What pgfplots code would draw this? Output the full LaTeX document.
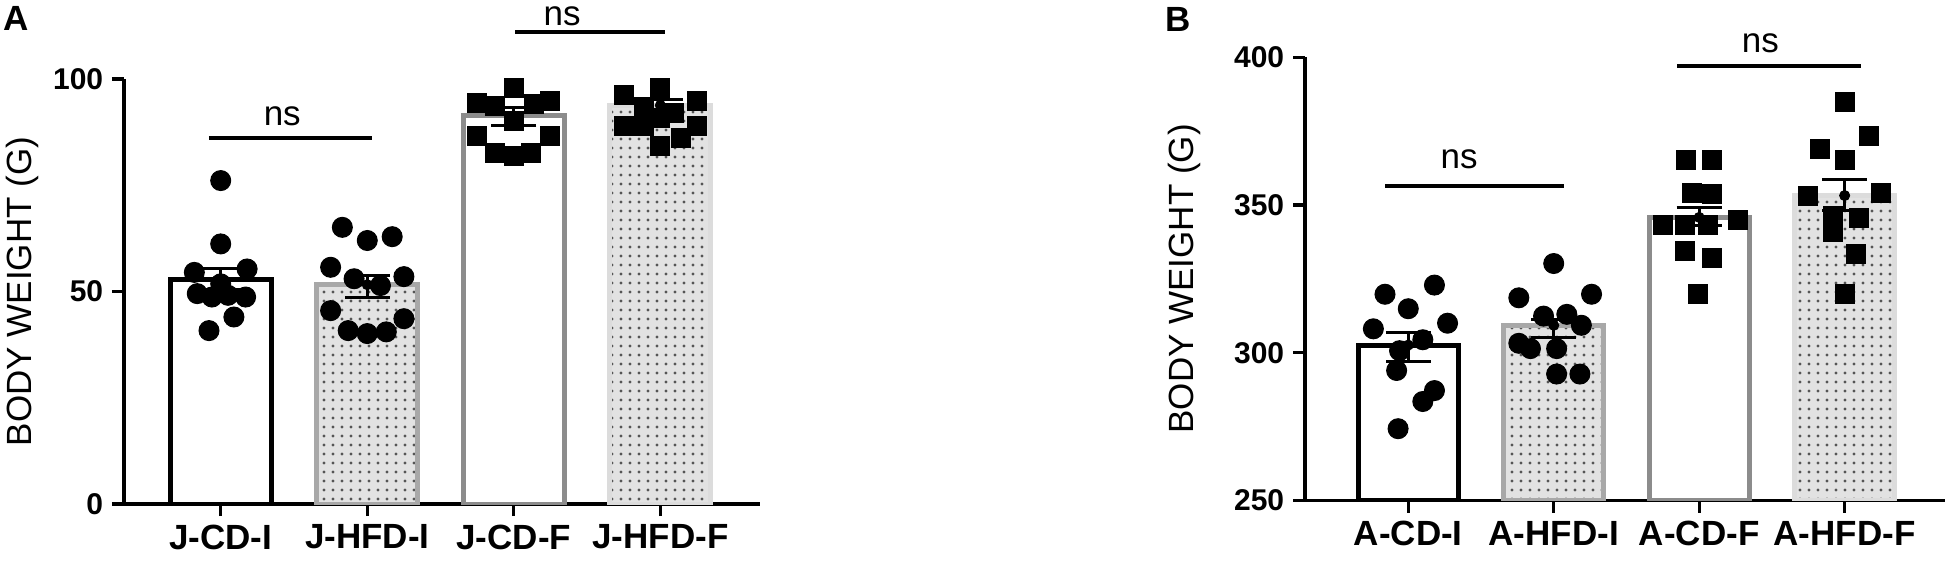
\documentclass[border=0pt]{standalone}
\usepackage{pgfplots}
\pgfplotsset{compat=1.18}
\usetikzlibrary{patterns.meta}
\usepackage{fontspec}
\setmainfont{Liberation Sans}

\definecolor{dotfill}{HTML}{E2E2E2}
\definecolor{hfdborder}{HTML}{A8A8A8}
\definecolor{cdfborder}{HTML}{8C8C8C}
\definecolor{lightborder}{HTML}{DCDCDC}
\definecolor{patcol}{HTML}{555555}

\tikzset{
  nsline/.style={line width=1.6pt, black},
  nstext/.style={anchor=base, font=\fontsize{14}{16}\selectfont},
}

\pgfplotsset{
  panel/.style={
    scale only axis,
    axis lines*=left,
    axis line style={line width=1.3pt},
    major tick style={line width=1.3pt, black},
    tick align=outside,
    major tick length=4.8pt,
    xtick={0,1,2,3},
    clip mode=individual,
    /pgf/number format/assume math mode=true,
    yticklabel style={font=\fontsize{12}{14}\selectfont\bfseries},
    xticklabel style={font=\fontsize{14}{16}\selectfont\bfseries},
    ylabel={BODY WEIGHT (G)},
  },
  barbase/.style={ybar, bar width=0.69, bar shift=0pt, line width=2pt},
  cdI/.style={barbase, draw=black, fill=white},
  hfdI/.style={barbase, draw=hfdborder, fill=dotfill, postaction={pattern={Dots[distance=3.6pt, radius=0.65pt]}, pattern color=patcol}},
  cdF/.style={barbase, draw=cdfborder, fill=white},
  hfdF/.style={barbase, draw=lightborder, fill=dotfill, postaction={pattern={Dots[distance=3.6pt, radius=0.65pt]}, pattern color=patcol}},
  circ/.style={only marks, mark=*, mark size=4pt, black, mark options={fill=black, draw=black}},
  sq/.style={only marks, mark=square*, mark size=3.8pt, black, mark options={fill=black, draw=black}},
  errb/.style={only marks, mark=none, black,
    error bars/.cd, y dir=both, y explicit,
    error bar style={line width=1.2pt, black},
    error mark options={line width=1.2pt, black, mark size=9pt, rotate=90}},
}

\begin{document}
\begin{tikzpicture}
\path[use as bounding box] (-49.6pt,-26.8pt) rectangle (730.4pt,201.6pt);

% ---------------- Panel A ----------------
\begin{axis}[panel,
  at={(0pt,0pt)}, anchor=south west,
  width=254.4pt, height=170pt,
  xmin=-0.66, xmax=3.68, ymin=0, ymax=100,
  ytick={0,50,100},
  xticklabels={J-CD-I, J-HFD-I, J-CD-F, J-HFD-F},
  every axis y label/.style={at={(axis description cs:0,0.5)}, xshift=-36.8pt, rotate=90, anchor=base, font=\fontsize{14}{16}\selectfont},
]
\addplot[cdI]  coordinates {(0,52.8)};
\addplot[hfdI] coordinates {(1,51.6)};
\addplot[cdF]  coordinates {(2,91.3)};
\addplot[hfdF] coordinates {(3,93.8)};

\addplot[circ] table {
x y
0.00 76.1
0.00 61.2
-0.18 54.5
0.18 55.3
-0.16 49.5
-0.06 48.7
0.05 49.1
0.17 48.7
0.09 44.0
-0.08 40.8
0.00 51.8
};
\addplot[circ] table {
x y
0.83 65.1
1.00 62.0
1.17 62.9
0.75 55.7
0.91 53.0
1.09 51.4
1.25 53.5
0.75 45.5
0.87 40.8
1.00 40.1
1.13 40.5
1.25 43.6
};
\addplot[sq] table {
x y
2.00 97.9
1.75 94.4
1.87 93.7
2.14 94.1
2.25 94.8
2.00 90.1
1.75 86.6
2.25 86.6
1.87 82.7
2.00 81.9
2.12 82.7
};
\addplot[sq] table {
x y
2.75 96.2
3.00 97.9
3.25 94.8
2.89 93.3
3.09 92.1
2.75 89.0
2.89 89.0
3.25 89.0
3.14 86.2
3.00 84.3
3.00 90.9
};

\addplot[errb] coordinates {
(0,52.8) += (0,2.5) -= (0,2.3)
(1,51.6) += (0,2.2) -= (0,2.9)
(2,91.3) += (0,2.0) -= (0,2.2)
(3,93.8) += (0,1.4) -= (0,2.0)
};

\draw[nsline] (axis cs:-0.08,86.1) -- (axis cs:1.03,86.1);
\node[nstext] at (axis cs:0.42,89.1) {ns};
\draw[nsline] (axis cs:2.01,111.1) -- (axis cs:3.03,111.1);
\node[nstext] at (axis cs:2.33,112.6) {ns};
\end{axis}

% ---------------- Panel B ----------------
\begin{axis}[panel,
  at={(472.4pt,1.4pt)}, anchor=south west,
  width=256pt, height=177.3pt,
  xmin=-0.71, xmax=3.69, ymin=250, ymax=400,
  ytick={250,300,350,400},
  xticklabels={A-CD-I, A-HFD-I, A-CD-F, A-HFD-F},
  every axis y label/.style={at={(axis description cs:0,0.5)}, xshift=-44.8pt, rotate=90, anchor=base, font=\fontsize{14}{16}\selectfont},
]
\addplot[cdI]  coordinates {(0,302.6)};
\addplot[hfdI] coordinates {(1,309.3)};
\addplot[cdF]  coordinates {(2,345.8)};
\addplot[hfdF] coordinates {(3,353.2)};

\addplot[circ] table {
x y
-0.16 319.8
0.18 322.9
0.00 314.9
-0.24 308.1
0.27 310.0
0.10 304.4
-0.06 300.7
-0.08 294.0
0.18 287.2
0.10 283.5
-0.07 274.3
};
\addplot[circ] table {
x y
1.00 330.2
0.76 318.6
1.26 319.8
0.93 312.4
1.09 313.0
1.19 309.3
0.76 303.2
0.84 301.4
1.02 301.4
1.02 292.8
1.18 292.8
};
\addplot[sq] table {
x y
1.91 365.2
2.09 365.2
1.95 354.2
2.09 353.6
1.75 343.1
1.90 343.1
2.06 343.1
2.27 345.0
1.90 334.5
2.09 332.1
1.99 319.8
};
\addplot[sq] table {
x y
3.00 384.9
3.17 373.2
2.83 368.9
3.00 365.2
2.75 352.9
3.25 354.2
2.92 346.2
3.10 345.6
2.92 340.7
3.08 333.3
3.00 319.8
};

\addplot[errb] coordinates {
(0,302.6) += (0,4.3) -= (0,5.6)
(1,309.3) += (0,1.9) -= (0,4.3)
(2,345.8) += (0,3.2) -= (0,2.7)
(3,353.2) += (0,5.3) -= (0,5.2)
};

\draw[nsline] (axis cs:-0.16,356.4) -- (axis cs:1.07,356.4);
\node[nstext] at (axis cs:0.35,362.5) {ns};
\draw[nsline] (axis cs:1.85,397.2) -- (axis cs:3.11,397.2);
\node[nstext] at (axis cs:2.42,401.5) {ns};
\end{axis}

\node[anchor=base west, inner sep=0pt, font=\fontsize{14}{16}\selectfont\bfseries] at (-48.4pt,189.6pt) {A};
\node[anchor=base west, inner sep=0pt, font=\fontsize{14}{16}\selectfont\bfseries] at (416.4pt,188.9pt) {B};
\end{tikzpicture}
\end{document}
